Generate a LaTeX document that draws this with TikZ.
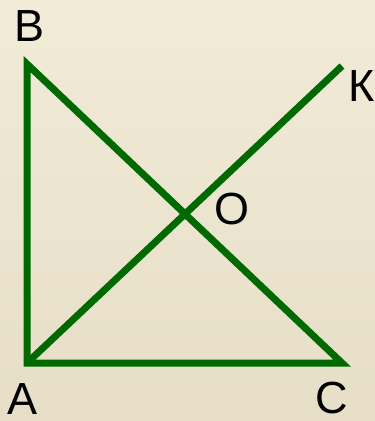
\documentclass[tikz,border=0pt]{standalone}
\usepackage{fontspec}
\setmainfont{Liberation Sans}
\definecolor{bgtop}{HTML}{F1EBD8}
\definecolor{bgbot}{HTML}{E6DEC6}
\definecolor{lgreen}{HTML}{006A00}
\begin{document}
\begin{tikzpicture}[x=1pt,y=-1pt,
  side/.style={draw=lgreen,line width=7pt,line join=miter},
  lbl/.style={font=\fontsize{45}{45}\selectfont,inner sep=0pt,text=black}]
\shade[top color=bgtop,bottom color=bgbot] (0,0) rectangle (375,421);
\useasboundingbox (0,0) rectangle (375,421);
\coordinate (B) at (27,64);
\coordinate (A) at (27,363);
\coordinate (C) at (342,363);
\coordinate (K) at (342,66);
\draw[side] (A) -- (B) -- (C) -- cycle;
\draw[side] (A) -- (K);
\node[lbl] (lB) at (30,26) {B};
\node[lbl] (lK) at (362,86) {К};
\node[lbl] (lO) at (232,209) {O};
\node[lbl] (lA) at (23,399) {A};
\node[lbl] (lC) at (332,398) {C};
\end{tikzpicture}
\end{document}
